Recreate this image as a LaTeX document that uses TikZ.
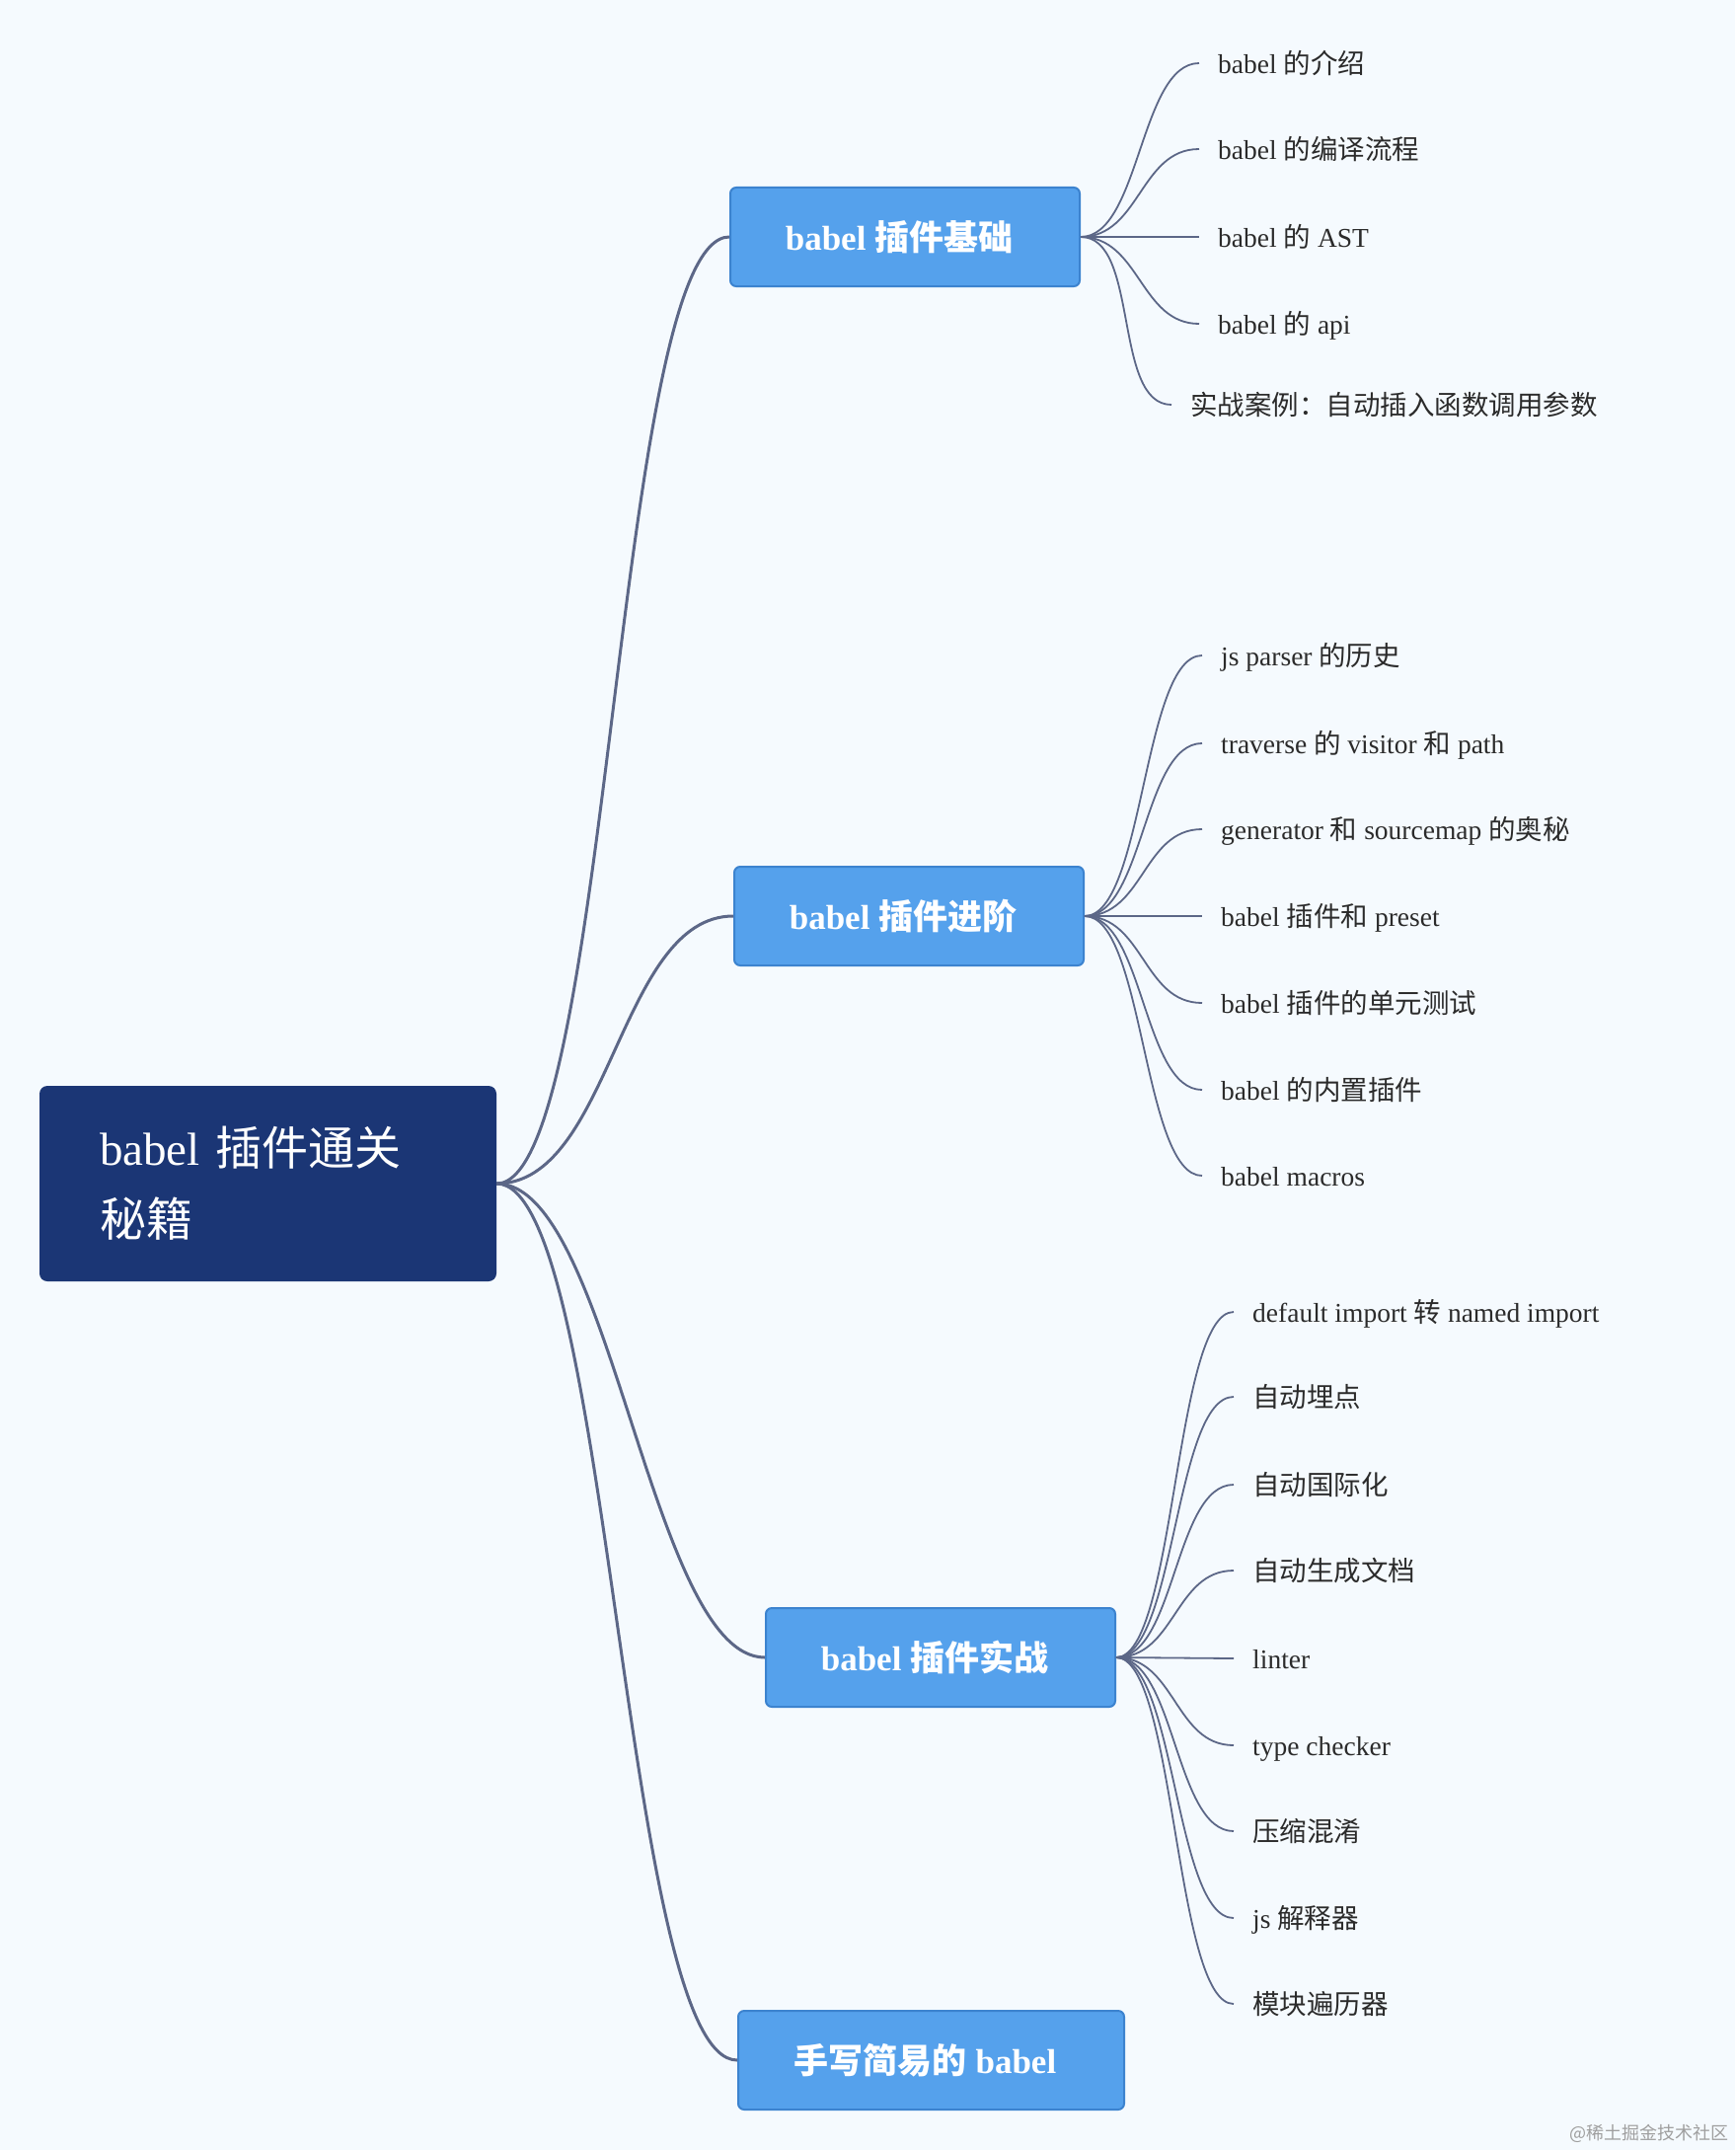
\documentclass[tikz,border=0pt]{standalone}
\usepackage{fontspec}
\setmainfont{Liberation Serif}
\newfontfamily\cjk{Noto Sans CJK SC}
\newcommand{\zh}[1]{{\cjk #1}}
\usepackage{xcolor}
\definecolor{bgblue}{HTML}{F5FAFE}
\definecolor{rootnavy}{HTML}{1B3675}
\definecolor{topicfill}{HTML}{55A1EC}
\definecolor{topicedge}{HTML}{3C83CF}
\definecolor{linegray}{HTML}{5C6787}
\definecolor{leafgray}{HTML}{2B2B2B}

\tikzset{
  rootbox/.style={fill=rootnavy, rounded corners=8pt, text=white, align=left,
    text width=341pt, inner xsep=61pt, minimum height=198pt,
    font=\fontsize{47}{72}\selectfont},
  topicbox/.style={fill=topicfill, draw=topicedge, line width=2pt, rounded corners=6pt,
    text=white, minimum width=354pt, minimum height=100pt,
    font=\fontsize{35}{40}\selectfont\bfseries},
  leaf/.style={anchor=west, inner xsep=19pt, inner ysep=0pt, text=leafgray,
    text height=2.1em, text depth=0em, font=\fontsize{27.5}{33}\selectfont},
  trunk/.style={draw=linegray, line width=3pt},
  twig/.style={draw=linegray, line width=1.8pt},
}

\begin{document}
\begin{tikzpicture}[x=1pt,y=-1pt]
  \fill[bgblue] (0,0) rectangle (1758,2178);
  \useasboundingbox (0,0) rectangle (1758,2178);

  % root and topics
  \node[rootbox] (root) at (271.5,1199) {babel \zh{插件通关}\\\zh{秘籍}};
  \node[topicbox] (b1) at (917,240) {\hspace*{-12pt}babel \zh{插件基础}};
  \node[topicbox] (b2) at (921,928) {\hspace*{-12pt}babel \zh{插件进阶}};
  \node[topicbox] (b3) at (953,1679) {\hspace*{-12pt}babel \zh{插件实战}};
  \node[topicbox,minimum width=391pt] (b4) at (943.5,2087) {\hspace*{-12pt}\zh{手写简易的} babel};

  \foreach \t in {b1,b2,b3,b4}
    \draw[trunk] (root.east) .. controls +(116,0) and +(-116,0) .. (\t.west);

  % leaves of b1
  \node[leaf] (l1a) at (1215,64) {babel \zh{的介绍}};
  \node[leaf] (l1b) at (1215,151) {babel \zh{的编译流程}};
  \node[leaf] (l1c) at (1215,240) {babel \zh{的} AST};
  \node[leaf] (l1d) at (1215,328) {babel \zh{的} api};
  \node[leaf] (l1e) at (1187,410) {\zh{实战案例：自动插入函数调用参数}};

  % leaves of b2
  \node[leaf] (l2a) at (1218,664) {js parser \zh{的历史}};
  \node[leaf] (l2b) at (1218,753) {traverse \zh{的} visitor \zh{和} path};
  \node[leaf] (l2c) at (1218,840) {generator \zh{和} sourcemap \zh{的奥秘}};
  \node[leaf] (l2d) at (1218,928) {babel \zh{插件和} preset};
  \node[leaf] (l2e) at (1218,1016) {babel \zh{插件的单元测试}};
  \node[leaf] (l2f) at (1218,1104) {babel \zh{的内置插件}};
  \node[leaf] (l2g) at (1218,1191) {babel macros};

  % leaves of b3
  \node[leaf] (l3a) at (1250,1329) {default import \zh{转} named import};
  \node[leaf] (l3b) at (1250,1415) {\zh{自动埋点}};
  \node[leaf] (l3c) at (1250,1504) {\zh{自动国际化}};
  \node[leaf] (l3d) at (1250,1591) {\zh{自动生成文档}};
  \node[leaf] (l3e) at (1250,1680) {linter};
  \node[leaf] (l3f) at (1250,1768) {type checker};
  \node[leaf] (l3g) at (1250,1855) {\zh{压缩混淆}};
  \node[leaf] (l3h) at (1250,1943) {js \zh{解释器}};
  \node[leaf] (l3i) at (1250,2030) {\zh{模块遍历器}};

  \foreach \n in {a,b,c,d,e}
    \draw[twig] (b1.east) .. controls +(60,0) and +(-60,0) .. (l1\n.west);
  \foreach \n in {a,b,c,d,e,f,g}
    \draw[twig] (b2.east) .. controls +(60,0) and +(-60,0) .. (l2\n.west);
  \foreach \n in {a,b,c,d,e,f,g,h,i}
    \draw[twig] (b3.east) .. controls +(60,0) and +(-60,0) .. (l3\n.west);

  \node[anchor=east, text=gray!75, font=\fontsize{18}{20}\selectfont] (mark) at (1755,2161) {\zh{@稀土掘金技术社区}};
\end{tikzpicture}
\end{document}
